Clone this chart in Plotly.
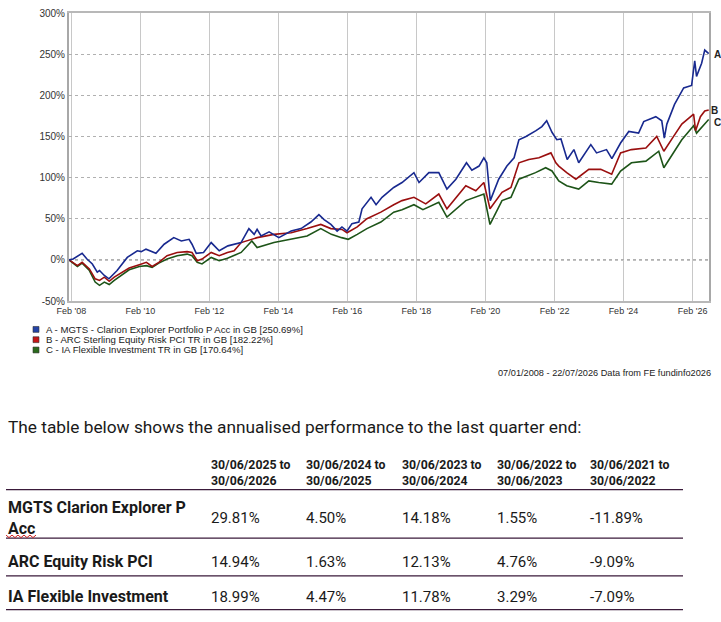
import plotly.graph_objects as go

# ---------------- data ----------------
dates_a = ["2008-01-07","2008-02-20","2008-05-25","2008-07-15","2008-09-10","2008-11-01","2008-11-25","2009-01-15","2009-03-05","2009-05-30",
           "2009-09-15","2009-12-30","2010-02-10","2010-04-01","2010-07-15","2010-10-10","2011-01-20","2011-04-10","2011-07-01","2011-08-01",
           "2011-09-15","2011-12-01","2012-02-20","2012-05-15","2012-08-15","2012-10-20","2013-01-01","2013-03-25","2013-05-20","2013-06-20",
           "2013-08-01","2013-10-25","2014-02-05","2014-06-15","2014-09-28","2015-01-10","2015-04-05","2015-05-30","2015-08-10","2015-10-15",
           "2015-12-05","2016-01-28","2016-03-20","2016-06-01","2016-07-05","2016-10-08","2016-11-30","2017-02-01","2017-04-10","2017-06-05",
           "2017-09-01","2018-01-05","2018-02-28","2018-06-12","2018-09-25","2018-12-20","2019-03-25","2019-07-15","2019-09-10","2019-11-25",
           "2020-01-15","2020-02-15","2020-03-23","2020-06-20","2020-09-15","2020-11-30","2021-01-20","2021-04-05","2021-07-20","2021-09-20",
           "2021-11-10","2022-01-05","2022-02-25","2022-04-10","2022-06-15","2022-08-25","2022-10-15","2023-01-10","2023-02-20","2023-04-22",
           "2023-08-05","2023-10-01","2024-01-01","2024-03-28","2024-07-10","2024-09-02","2025-01-08","2025-03-12","2025-04-08","2025-05-05",
           "2025-07-25","2025-10-30","2026-01-22","2026-02-24","2026-03-15","2026-05-08","2026-06-10","2026-07-22"]
ret_a = [0, 1, 8, 1, -5, -15, -13, -19, -23, -13,
         3, 11, 10, 13, 8, 19, 27, 23, 25, 19,
         8, 9, 21, 11, 17, 19, 21, 38, 31, 37,
         29, 34, 27, 35, 38, 46, 55, 49, 43, 35,
         40, 35, 44, 46, 62, 76, 67, 76, 82, 88,
         94, 106, 94, 106, 106, 86, 98, 118, 109, 114,
         124, 118, 72, 98, 114, 124, 146, 150, 157, 162,
         169, 155, 146, 147, 122, 134, 118, 132, 140, 130,
         134, 123, 142, 156, 154, 168, 174, 169, 148, 165,
         189, 209, 212, 242, 223, 239, 255, 250.69]

dates_b = ["2008-01-07","2008-04-05","2008-05-25","2008-08-10","2008-10-10","2008-11-25","2009-01-15","2009-03-08","2009-04-30","2009-07-25",
           "2009-10-05","2010-01-20","2010-04-05","2010-06-05","2010-08-15","2010-11-10","2011-02-25","2011-06-10","2011-08-01","2011-09-25",
           "2011-11-15","2012-02-20","2012-05-15","2012-08-10","2012-10-20","2013-01-02","2013-06-20","2013-12-15","2014-06-15","2014-12-01",
           "2015-04-25","2015-08-10","2015-12-05","2016-01-28","2016-05-15","2016-08-25","2017-01-20","2017-06-05","2017-09-01","2018-01-05",
           "2018-05-10","2018-09-25","2018-12-20","2019-07-08","2019-10-22","2020-01-15","2020-03-20","2020-07-25","2020-10-28","2021-01-20",
           "2021-05-05","2021-08-20","2021-12-25","2022-02-15","2022-03-18","2022-06-10","2022-09-15","2023-01-30","2023-06-05","2023-09-29",
           "2024-01-01","2024-04-25","2024-09-25","2025-01-18","2025-04-03","2025-07-15","2025-10-10","2026-02-12","2026-03-05","2026-04-25",
           "2026-06-10","2026-07-22"]
ret_b = [0, -7, -3, -11, -23, -25, -21, -26, -21, -15,
         -10, -6, -3, -8, -3, 5, 9, 10, 9, -1,
         1, 9, 5, 9, 11, 21, 27, 31, 33, 38,
         43, 38, 37, 33, 40, 50, 58, 67, 72, 76,
         68, 80, 62, 90, 84, 94, 62, 82, 88, 118,
         122, 124, 130, 118, 114, 106, 98, 110, 110, 104,
         130, 134, 136, 150, 132, 150, 165, 177, 157, 174,
         181, 182.22]

dates_c = ["2008-01-07","2008-04-05","2008-05-25","2008-08-10","2008-10-10","2008-11-25","2009-01-15","2009-03-08","2009-04-30","2009-07-25",
           "2009-10-05","2010-01-20","2010-04-05","2010-06-05","2010-08-15","2010-11-10","2011-02-25","2011-06-10","2011-08-01","2011-09-25",
           "2011-11-15","2012-02-20","2012-05-15","2012-08-10","2012-10-20","2013-01-02","2013-04-25","2013-06-20","2013-12-15","2014-06-15",
           "2014-12-01","2015-04-25","2015-08-15","2015-12-01","2016-02-10","2016-05-15","2016-08-25","2017-01-20","2017-06-05","2017-09-01",
           "2018-01-05","2018-04-10","2018-09-25","2018-12-20","2019-07-08","2020-01-15","2020-03-20","2020-07-25","2020-10-28","2021-01-20",
           "2021-07-15","2021-10-30","2022-01-05","2022-03-18","2022-06-10","2022-10-15","2023-01-30","2023-05-15","2023-09-29","2024-01-01",
           "2024-04-25","2024-09-25","2025-02-08","2025-04-03","2025-07-15","2025-10-10","2026-02-12","2026-03-15","2026-07-22"]
ret_c = [0, -8, -4, -13, -27, -31, -27, -30, -25, -18,
         -12, -8, -7, -9, -4, 1, 5, 7, 5, -3,
         -5, 3, -1, 2, 5, 9, 23, 15, 21, 25,
         29, 38, 31, 27, 25, 31, 38, 46, 58, 61,
         67, 61, 70, 52, 72, 80, 43, 72, 76, 98,
         106, 112, 108, 96, 90, 86, 96, 94, 92, 108,
         118, 120, 132, 112, 130, 146, 163, 154, 170.64]

series_letters = ["A", "B", "C"]
series_names = ["A - MGTS - Clarion Explorer Portfolio P Acc in GB [250.69%]",
                "B - ARC Sterling Equity Risk PCI TR in GB [182.22%]",
                "C - IA Flexible Investment TR in GB [170.64%]"]

x_tick_dates = ["2008-02-01","2010-02-01","2012-02-01","2014-02-01","2016-02-01",
                "2018-02-01","2020-02-01","2022-02-01","2024-02-01","2026-02-01"]
x_tick_labels = ["Feb '08","Feb '10","Feb '12","Feb '14","Feb '16",
                 "Feb '18","Feb '20","Feb '22","Feb '24","Feb '26"]
y_ticks = [-50, 0, 50, 100, 150, 200, 250, 300]
y_tick_labels = ["-50%", "0%", "50%", "100%", "150%", "200%", "250%", "300%"]

footer_text = "07/01/2008 - 22/07/2026 Data from FE fundinfo2026"
intro_text = "The table below shows the annualised performance to the last quarter end:"

period_headers = ["30/06/2025 to<br>30/06/2026", "30/06/2024 to<br>30/06/2025", "30/06/2023 to<br>30/06/2024",
                  "30/06/2022 to<br>30/06/2023", "30/06/2021 to<br>30/06/2022"]
table_funds = ["MGTS Clarion Explorer P<br>Acc", "ARC Equity Risk PCI", "IA Flexible Investment"]
table_values = [["29.81%", "4.50%", "14.18%", "1.55%", "-11.89%"],
                ["14.94%", "1.63%", "12.13%", "4.76%", "-9.09%"],
                ["18.99%", "4.47%", "11.78%", "3.29%", "-7.09%"]]

# ---------------- layout helpers ----------------
W, H = 721, 622
ML, MR, MT, MB = 69, 12, 7, 321
PW, PH = W - ML - MR, H - MT - MB


def px(x):
    return (x - ML) / PW


def py(y):
    return (H - MB - y) / PH


line_colors = ["#18298f", "#9a0f0f", "#1d5418"]
legend_colors = ["#2443a6", "#c41616", "#2a6a1c"]

fig = go.Figure()
for d, v, c, n in [(dates_c, ret_c, line_colors[2], series_names[2]),
                   (dates_b, ret_b, line_colors[1], series_names[1]),
                   (dates_a, ret_a, line_colors[0], series_names[0])]:
    fig.add_trace(go.Scatter(x=d, y=v, mode="lines", name=n,
                             line=dict(color=c, width=1.6), hoverinfo="skip"))

chart_font = "Liberation Sans, Arial, sans-serif"
table_font = "Roboto, Noto Sans, sans-serif"
text_col = "#1a1a1a"

ann = []
shapes = []

# zero line
shapes.append(dict(type="line", xref="paper", x0=0, x1=1, yref="y", y0=0, y1=0,
                   line=dict(color="#555555", width=1, dash="dot"), layer="below"))

# end letters
ends = [(dates_a[-1], ret_a[-1], 3), (dates_b[-1], ret_b[-1], 0), (dates_c[-1], ret_c[-1], 3)]
for (d, v, xs), letter in zip(ends, series_letters):
    ann.append(dict(x=d, y=v, xref="x", yref="y", text="<b>%s</b>" % letter, showarrow=False,
                    xanchor="left", yanchor="middle", xshift=xs, yshift=-1 if letter != "C" else -3,
                    font=dict(family=chart_font, size=10, color="#222222")))

# legend
leg_y = [330, 340.5, 351]
for name, col, yy in zip(series_names, legend_colors, leg_y):
    shapes.append(dict(type="rect", xref="paper", yref="paper", x0=px(33), x1=px(39),
                       y0=py(yy + 3), y1=py(yy - 3), fillcolor=col, line=dict(color="#333333", width=0.6)))
    ann.append(dict(x=px(44), y=py(yy), xref="paper", yref="paper", text=name, showarrow=False,
                    xanchor="left", yanchor="middle", font=dict(family=chart_font, size=9.6, color="#222222")))

# footer
ann.append(dict(x=px(713), y=py(374), xref="paper", yref="paper", text=footer_text, showarrow=False,
                xanchor="right", yanchor="middle", font=dict(family=chart_font, size=9.2, color="#222222")))

# intro sentence
ann.append(dict(x=px(6), y=py(430), xref="paper", yref="paper", text=intro_text, showarrow=False,
                xanchor="left", yanchor="middle", font=dict(family=table_font, size=17.3, color=text_col)))

# table
col_x = [209, 304, 400, 495, 588]
for hx, htxt in zip(col_x, period_headers):
    ann.append(dict(x=px(hx), y=py(477), xref="paper", yref="paper", text=htxt, showarrow=False,
                    xanchor="left", yanchor="middle", align="left",
                    font=dict(family=table_font, size=12.3, color=text_col, weight=700)))

row_y = [523, 567, 603]
for fund, vals, ry in zip(table_funds, table_values, row_y):
    ann.append(dict(x=px(6), y=py(ry), xref="paper", yref="paper", text=fund, showarrow=False,
                    xanchor="left", yanchor="middle", align="left",
                    font=dict(family=table_font, size=16, color=text_col, weight=700)))
    for vx, val in zip(col_x, vals):
        ann.append(dict(x=px(vx), y=py(ry), xref="paper", yref="paper", text=val, showarrow=False,
                        xanchor="left", yanchor="middle",
                        font=dict(family=table_font, size=15, color=text_col)))

for ly in [493.5, 543, 581.5, 616]:
    shapes.append(dict(type="line", xref="paper", yref="paper", x0=px(6), x1=px(683),
                       y0=py(ly), y1=py(ly), line=dict(color="#3a1a3a", width=1.2)))

# spell-check squiggle under "Acc"
pts = []
for i in range(11):
    xx = 6 + i * 3
    yy = 540 if i % 2 == 0 else 542.5
    pts.append("%s%.5f,%.5f" % ("M" if i == 0 else "L", px(xx), py(yy)))
shapes.append(dict(type="path", xref="paper", yref="paper", path=" ".join(pts),
                   line=dict(color="#d02020", width=1)))

fig.update_layout(
    width=W, height=H, margin=dict(l=ML, r=MR, t=MT, b=MB, pad=0),
    paper_bgcolor="white", plot_bgcolor="white", showlegend=False,
    annotations=ann, shapes=shapes,
    xaxis=dict(type="date", range=["2008-01-07", "2026-07-25"], tickvals=x_tick_dates, ticktext=x_tick_labels,
               showgrid=True, gridcolor="#c8c8c8", gridwidth=1.3, showline=True, linecolor="#b8b8b8", linewidth=1.5,
               mirror=True, ticks="", tickfont=dict(family=chart_font, size=9, color="#333333"), zeroline=False),
    yaxis=dict(range=[-50, 300], tickvals=y_ticks, ticktext=y_tick_labels, showgrid=True, gridcolor="#b0b0b0",
               griddash="dot", gridwidth=1, showline=True, linecolor="#a8a8a8", linewidth=2, mirror=True,
               ticks="", zeroline=False, tickfont=dict(family=chart_font, size=10, color="#333333")),
)

fig.write_html("out.html", config={"displayModeBar": False},
               post_script="document.body.style.margin='0';document.body.style.overflow='hidden';")
